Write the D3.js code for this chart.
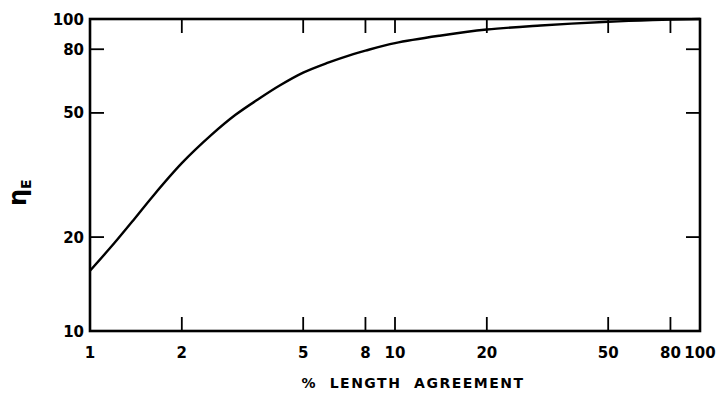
<!DOCTYPE html>
<html><head><meta charset="utf-8">
<script src="https://cdn.jsdelivr.net/npm/d3@7"></script>
<style>body{margin:0;background:#fff}svg{display:block}</style>
</head><body>
<script>
const lengthAgreement = [1, 1.2, 1.4, 1.6, 2, 2.5, 3, 3.6, 4.2, 5, 6, 7.3, 8, 10, 14, 20, 30, 50, 70, 100];
const etaE = [15.6, 19.1, 22.9, 26.9, 34.5, 42.5, 49.3, 55.7, 61.3, 67.3, 72.3, 77.2, 79.2, 83.7, 88.4, 92.5, 95.3, 98, 99.2, 100];
const xTickValues = [1, 2, 5, 8, 10, 20, 50, 80, 100];
const yTickValues = [10, 20, 50, 80, 100];
const xInnerTicks = [2, 5, 8, 10, 20, 50, 80];
const yInnerTicks = [20, 50, 80];

const W = 726, H = 400;
const m = {l: 90, r: 26, t: 19, b: 69};
const svg = d3.select("body").append("svg").attr("width", W).attr("height", H);
const x = d3.scaleLog().domain([1, 100]).range([m.l, W - m.r]);
const y = d3.scaleLog().domain([10, 100]).range([H - m.b, m.t]);
const font = "'DejaVu Sans', sans-serif";

// inner ticks on all four sides
const tl = 14;
const g = svg.append("g").attr("stroke", "#000").attr("stroke-width", 1.8);
xInnerTicks.forEach(v => {
  g.append("line").attr("x1", x(v)).attr("x2", x(v)).attr("y1", y(10)).attr("y2", y(10) - tl);
  g.append("line").attr("x1", x(v)).attr("x2", x(v)).attr("y1", y(100)).attr("y2", y(100) + tl);
});
yInnerTicks.forEach(v => {
  g.append("line").attr("x1", x(1)).attr("x2", x(1) + tl).attr("y1", y(v)).attr("y2", y(v));
  g.append("line").attr("x1", x(100)).attr("x2", x(100) - tl).attr("y1", y(v)).attr("y2", y(v));
});

// frame
svg.append("rect").attr("x", x(1)).attr("y", y(100))
  .attr("width", x(100) - x(1)).attr("height", y(10) - y(100))
  .attr("fill", "none").attr("stroke", "#000").attr("stroke-width", 2.6);

// tick labels
svg.append("g").selectAll("text").data(xTickValues).join("text")
  .attr("x", d => x(d)).attr("y", 358).attr("text-anchor", "middle")
  .attr("font-family", font).attr("font-weight", "bold").attr("font-size", 15)
  .text(d => d);
svg.append("g").selectAll("text").data(yTickValues).join("text")
  .attr("x", 84).attr("y", d => y(d) + 5.5).attr("text-anchor", "end")
  .attr("font-family", font).attr("font-weight", "bold").attr("font-size", 15)
  .text(d => d);

// curve
const line = d3.line().x(d => x(d[0])).y(d => y(d[1])).curve(d3.curveCatmullRom.alpha(0.5));
svg.append("path").datum(d3.zip(lengthAgreement, etaE))
  .attr("d", line).attr("fill", "none").attr("stroke", "#000").attr("stroke-width", 2.4);

// axis titles
svg.append("text").attr("x", 413).attr("y", 388).attr("text-anchor", "middle")
  .attr("font-family", font).attr("font-weight", "bold").attr("font-size", 14)
  .attr("letter-spacing", 1.5).attr("xml:space", "preserve")
  .text("%  LENGTH  AGREEMENT");
const yl = svg.append("text").attr("transform", "translate(26,206) rotate(-90)")
  .attr("font-family", font).attr("font-weight", "bold");
yl.append("tspan").attr("font-size", 24).text("η");
yl.append("tspan").attr("font-size", 14).attr("dy", 5).text("E");
</script>
</body></html>
